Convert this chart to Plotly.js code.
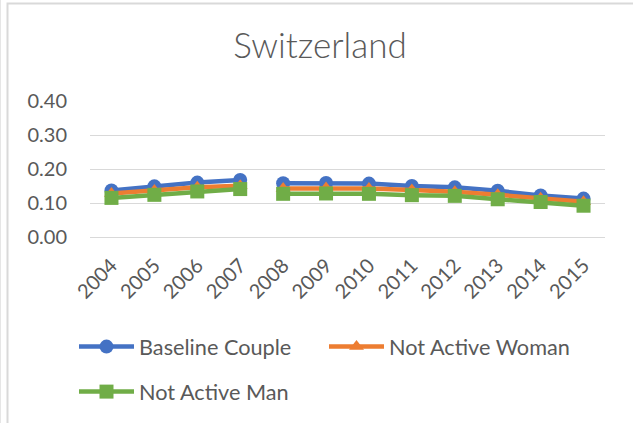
<!DOCTYPE html>
<html>
<head>
<meta charset="utf-8">
<script src="https://cdn.plot.ly/plotly-3.0.1.min.js"></script>
<style>
  html, body { margin: 0; padding: 0; background: #fff; }
  #chart { width: 633px; height: 423px; }
</style>
</head>
<body>
<div id="chart"></div>
<script>
// ---- data ----
const years = ['2004','2005','2006','2007','2008','2009','2010','2011','2012','2013','2014','2015'];
const baselineCouple  = [0.137, 0.149, 0.160, 0.168, 0.158, 0.159, 0.157, 0.150, 0.146, 0.136, 0.122, 0.113];
const notActiveWoman  = [0.128, 0.137, 0.146, 0.151, 0.143, 0.144, 0.143, 0.138, 0.133, 0.124, 0.114, 0.104];
const notActiveMan    = [0.115, 0.124, 0.134, 0.141, 0.127, 0.128, 0.127, 0.123, 0.121, 0.111, 0.103, 0.092];
const seriesNames = ['Baseline Couple', 'Not Active Woman', 'Not Active Man'];
const breakAfterYear = '2007';   // the lines are not joined between 2007 and 2008

const colors  = ['#4472C4', '#ED7D31', '#70AD47'];
const symbols = ['circle', 'triangle-up', 'square'];
const sizes   = [14, 13, 14];
const legendOf = ['legend', 'legend', 'legend2'];
const allValues = [baselineCouple, notActiveWoman, notActiveMan];

const cut = years.indexOf(breakAfterYear) + 1;
const traces = [];
allValues.forEach((vals, i) => {
  [[0, cut], [cut, years.length]].forEach((seg, k) => {
    traces.push({
      type: 'scatter',
      mode: 'lines+markers',
      x: years.slice(seg[0], seg[1]),
      y: vals.slice(seg[0], seg[1]),
      name: seriesNames[i],
      legendgroup: seriesNames[i],
      legend: legendOf[i],
      showlegend: k === 0,
      line: { color: colors[i], width: 4.5 },
      marker: { color: colors[i], symbol: symbols[i], size: sizes[i] },
      hoverinfo: 'x+y+name'
    });
  });
});

const txt = '#595959';
const fontFam = 'Lato, "Open Sans", sans-serif';

// frame of the chart area (pixel positions converted to paper units)
const L = 90, R = 605, T = 101, B = 237;
const px = v => (v - L) / (R - L);
const py = v => (B - v) / (B - T);

const legendBase = {
  orientation: 'h',
  xref: 'container', yref: 'container',
  x: 74 / 633, xanchor: 'left',
  yanchor: 'top',
  entrywidth: 180, entrywidthmode: 'pixels',
  itemwidth: 55,
  font: { family: fontFam, size: 21.7, color: txt },
  bgcolor: 'rgba(0,0,0,0)',
  traceorder: 'normal'
};

const layout = {
  width: 633, height: 423,
  margin: { l: L, r: 633 - R, t: T, b: 423 - B, pad: 0 },
  paper_bgcolor: '#ffffff', plot_bgcolor: '#ffffff',
  font: { family: fontFam, color: txt, size: 20 },
  title: {
    text: 'Switzerland',
    font: { family: fontFam, size: 35, color: txt, weight: 300 },
    xref: 'container', yref: 'container',
    x: 320 / 633, xanchor: 'center',
    y: 1 - 46 / 423, yanchor: 'middle'
  },
  xaxis: {
    type: 'category',
    range: [-0.5, years.length - 0.5],
    tickangle: -45,
    showgrid: false,
    showline: true, linecolor: '#d9d9d9', linewidth: 1,
    ticks: '',
    ticklabelstandoff: 8,
    tickfont: { family: fontFam, size: 20, color: txt },
    zeroline: false,
    fixedrange: true
  },
  yaxis: {
    range: [0, 0.4],
    dtick: 0.1,
    tickformat: '.2f',
    showgrid: true, gridcolor: '#d9d9d9', gridwidth: 1,
    zeroline: false, showline: false,
    ticks: '',
    ticklabelstandoff: 22,
    tickfont: { family: fontFam, size: 20, color: txt },
    fixedrange: true
  },
  showlegend: true,
  legend:  Object.assign({}, legendBase, { y: 1 - 326 / 423 }),
  legend2: Object.assign({}, legendBase, { y: 1 - 371 / 423 }),
  shapes: [
    { type: 'path', xref: 'paper', yref: 'paper',
      path: `M${px(7.5)},${py(430)} L${px(7.5)},${py(3.5)} L${px(640)},${py(3.5)}`,
      line: { color: '#d9d9d9', width: 2 } },
    { type: 'line', xref: 'paper', yref: 'paper',
      x0: px(0.5), x1: px(0.5), y0: py(430), y1: py(0),
      line: { color: '#e6e6e6', width: 1 } }
  ]
};

Plotly.newPlot('chart', traces, layout, { displayModeBar: false, staticPlot: true });
</script>
</body>
</html>
